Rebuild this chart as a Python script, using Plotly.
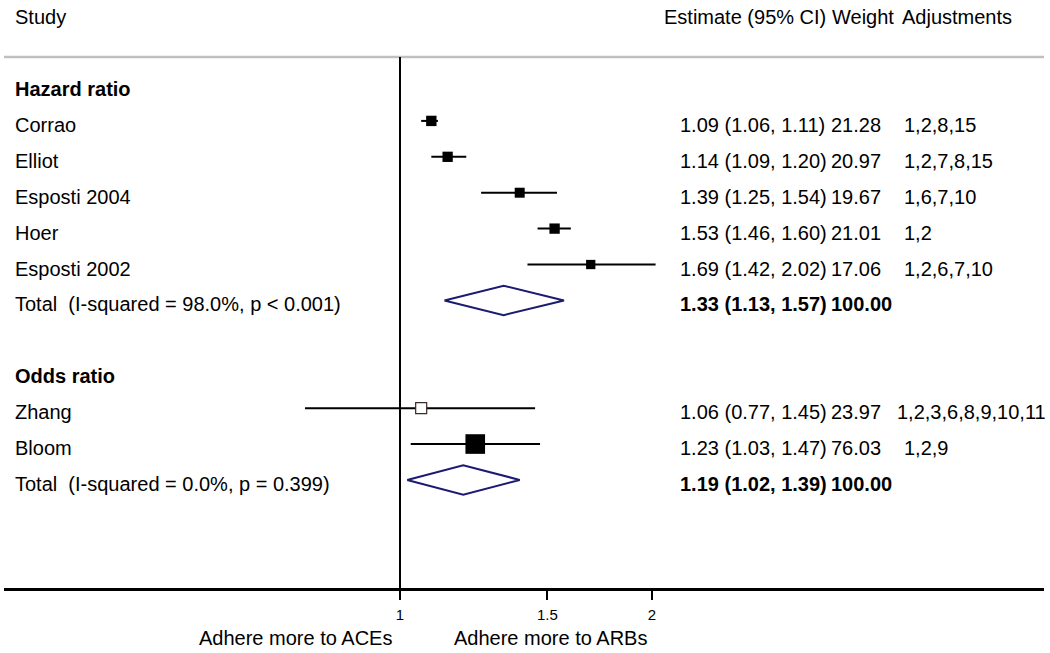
import math
import plotly.graph_objects as go

# ---------------- data ----------------
hr_studies = ["Corrao", "Elliot", "Esposti 2004", "Hoer", "Esposti 2002"]
hr_est = [1.09, 1.14, 1.39, 1.53, 1.69]
hr_lo = [1.06, 1.09, 1.25, 1.46, 1.42]
hr_hi = [1.11, 1.20, 1.54, 1.60, 2.02]
hr_weight = [21.28, 20.97, 19.67, 21.01, 17.06]
hr_adj = ["1,2,8,15", "1,2,7,8,15", "1,6,7,10", "1,2", "1,2,6,7,10"]
hr_total = [1.33, 1.13, 1.57]
hr_total_label = "Total\u00a0 (I-squared = 98.0%, p < 0.001)"

or_studies = ["Zhang", "Bloom"]
or_est = [1.06, 1.23]
or_lo = [0.77, 1.03]
or_hi = [1.45, 1.47]
or_weight = [23.97, 76.03]
or_adj = ["1,2,3,6,8,9,10,11", "1,2,9"]
or_total = [1.19, 1.02, 1.39]
or_total_label = "Total\u00a0 (I-squared = 0.0%, p = 0.399)"

tick_vals = [1, 1.5, 2]
tick_text = ["1", "1.5", "2"]

# ---------------- layout helpers ----------------
W, H = 1050, 653
L, R, T, B = 4, 6, 57, 65
FONT = "Liberation Sans, Arial, Helvetica, sans-serif"
NAVY = "#1b1b73"
PAD = 3  # annotation inner padding


def lg(v):
    # ratio scale: plot on log10 axis coordinates
    return None if v is None else math.log10(v)


def px(p):
    return (p - L) / (W - L - R)


def py(q):
    return (H - B - q) / (H - T - B)


fig = go.Figure()
annotations = []


def text(x, y, s, bold=False, yref="y", xshift=0, size=20, xanchor="left"):
    annotations.append(dict(
        x=x, y=y, xref="paper", yref=yref, text=(f"<b>{s}</b>" if bold else s),
        showarrow=False, xanchor=xanchor, yanchor="middle",
        xshift=xshift + (-PAD if xanchor == "left" else PAD),
        yshift=-4 if yref == "y" else 0,
        font=dict(family=FONT, size=size, color="black"),
    ))


groups = [
    ("Hazard ratio", hr_studies, hr_est, hr_lo, hr_hi, hr_weight, hr_adj, hr_total, hr_total_label, 0),
    ("Odds ratio", or_studies, or_est, or_lo, or_hi, or_weight, or_adj, or_total, or_total_label, 8),
]

for title, studies, est, lo, hi, wt, adj, tot, tot_label, start in groups:
    rows = [start + 1 + i for i in range(len(studies))]
    # CI lines
    cx, cy = [], []
    for r, l, h in zip(rows, lo, hi):
        cx += [lg(l), lg(h), None]
        cy += [r, r, None]
    fig.add_trace(go.Scatter(x=cx, y=cy, mode="lines",
                             line=dict(color="black", width=2), hoverinfo="skip"))
    # boxes
    fills = ["white" if s == "Zhang" else "black" for s in studies]
    lines = [1.2 if s == "Zhang" else 0 for s in studies]
    fig.add_trace(go.Scatter(
        x=[lg(v) for v in est], y=rows, mode="markers",
        marker=dict(symbol="square", size=[2.25 * math.sqrt(w) for w in wt],
                    opacity=1, color=fills,
                    line=dict(color="#3a2a2a", width=lines)),
        hoverinfo="skip"))
    # diamond
    trow = rows[-1] + 1
    e, l, h = tot
    fig.add_trace(go.Scatter(
        x=[lg(l), lg(e), lg(h), lg(e), lg(l)],
        y=[trow, trow - 0.41, trow, trow + 0.41, trow],
        mode="lines", line=dict(color=NAVY, width=2), hoverinfo="skip"))

    # texts
    text(px(16), start, title, bold=True)
    for r, s, e_, l_, h_, w_, a_ in zip(rows, studies, est, lo, hi, wt, adj):
        text(px(16), r, s)
        text(px(681), r, f"{e_:.2f} ({l_:.2f}, {h_:.2f})")
        text(px(832), r, f"{w_:.2f}")
        text(px(905), r, a_, xshift=-7 if len(a_) > 12 else 0)
    text(px(16), trow, tot_label)
    text(px(681), trow, f"{e:.2f} ({l:.2f}, {h:.2f})", bold=True)
    text(px(832), trow, "100.00", bold=True)

# headers
hy = py(17)
text(px(16), hy, "Study", yref="paper")
text(px(665), hy, "Estimate (95% CI)", yref="paper")
text(px(833), hy, "Weight", yref="paper")
text(px(903), hy, "Adjustments", yref="paper")

# favours labels
fy = py(638)
text(px(391), fy, "Adhere more to ACEs", yref="paper", xanchor="right")
text(px(455), fy, "Adhere more to ARBs", yref="paper")

scale = 837.0
xr = [-(400 - L) / scale, (W - R - 400) / scale]

fig.update_layout(
    width=W, height=H,
    margin=dict(l=L, r=R, t=T, b=B),
    paper_bgcolor="white", plot_bgcolor="white",
    showlegend=False,
    annotations=annotations,
    xaxis=dict(range=xr, tickmode="array", tickvals=[lg(v) for v in tick_vals],
               ticktext=tick_text,
               showgrid=False, zeroline=False, showline=True, linecolor="black",
               linewidth=2.5, ticks="outside", ticklen=9, tickwidth=2,
               tickcolor="black", ticklabelstandoff=2,
               tickfont=dict(family=FONT, size=15, color="black")),
    yaxis=dict(range=[14.01, -0.78], visible=False, showgrid=False, zeroline=False),
    shapes=[
        dict(type="line", xref="paper", yref="paper", x0=0, x1=1, y0=1, y1=1,
             line=dict(color="#c0c0c0", width=2.5)),
        dict(type="line", xref="x", yref="paper", x0=0, x1=0, y0=0, y1=1,
             line=dict(color="black", width=2)),
    ],
)

fig.write_html("out.html", config={"displayModeBar": False},
               post_script="document.body.style.margin='0';document.body.style.overflow='hidden';")
